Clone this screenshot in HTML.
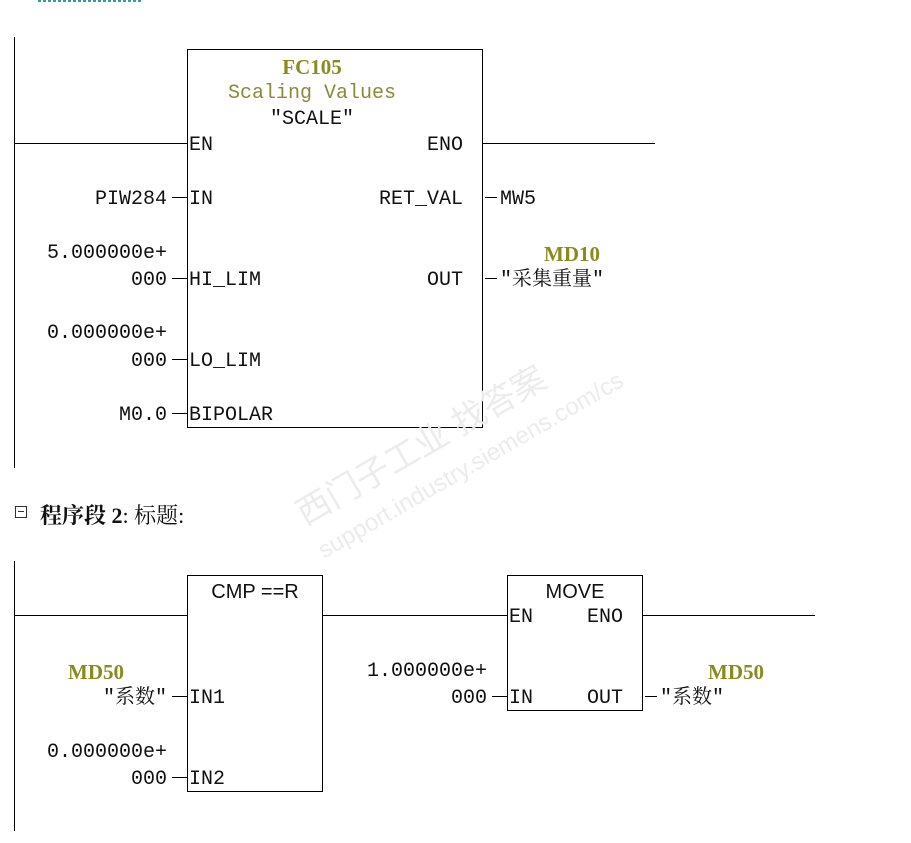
<!DOCTYPE html>
<html><head><meta charset="utf-8"><style>
body{margin:0;width:911px;height:843px;background:#fff;position:relative;overflow:hidden}
.t{position:absolute;font-family:"Liberation Mono","Noto Serif CJK SC",monospace;font-size:20px;line-height:20px;color:#111;white-space:nowrap;margin-top:3px}
.r{text-align:right}
.c{text-align:center}
.o{color:#8a8a1e;font-weight:bold;font-family:"Liberation Serif",serif;font-size:21px}
.s{font-family:"Liberation Sans",sans-serif;font-size:20px}
.h{position:absolute;background:#000;height:1px}
.v{position:absolute;background:#000;width:1px}
.b{position:absolute;border:1px solid #000;box-sizing:border-box}
</style></head><body>
<div style="position:absolute;left:38px;top:0;width:104px;height:2px;background:repeating-linear-gradient(90deg,#3a9a9a 0 3px,#fff 3px 5px)"></div>

<!-- network 1 -->
<div class="v" style="left:14px;top:37px;height:431px"></div>
<div class="b" style="left:187px;top:49px;width:296px;height:379px"></div>
<div class="h" style="left:14px;top:143px;width:173px"></div>
<div class="h" style="left:482px;top:143px;width:173px"></div>
<div class="t c o" style="left:187px;width:250px;top:54px">FC105</div>
<div class="t c" style="left:187px;width:250px;top:81px;color:#8a8a3a">Scaling Values</div>
<div class="t c" style="left:187px;width:250px;top:107px">"SCALE"</div>
<div class="t" style="left:189px;top:133px">EN</div>
<div class="t r" style="right:448px;top:133px">ENO</div>
<div class="t" style="left:189px;top:187px">IN</div>
<div class="t r" style="right:448px;top:187px">RET_VAL</div>
<div class="t" style="left:189px;top:268px">HI_LIM</div>
<div class="t r" style="right:448px;top:268px">OUT</div>
<div class="t" style="left:189px;top:349px">LO_LIM</div>
<div class="t" style="left:189px;top:403px">BIPOLAR</div>
<div class="t r" style="right:744px;top:187px">PIW284</div>
<div class="h" style="left:172px;top:197px;width:15px"></div>
<div class="t r" style="right:744px;top:241px">5.000000e+</div>
<div class="t r" style="right:744px;top:268px">000</div>
<div class="h" style="left:172px;top:278px;width:15px"></div>
<div class="t r" style="right:744px;top:321px">0.000000e+</div>
<div class="t r" style="right:744px;top:349px">000</div>
<div class="h" style="left:172px;top:359px;width:15px"></div>
<div class="t r" style="right:744px;top:403px">M0.0</div>
<div class="h" style="left:172px;top:413px;width:15px"></div>
<div class="h" style="left:485px;top:197px;width:12px"></div>
<div class="t" style="left:500px;top:187px">MW5</div>
<div class="t c o" style="left:532px;width:80px;top:241px">MD10</div>
<div class="h" style="left:485px;top:278px;width:12px"></div>
<div class="t" style="left:500px;top:268px">"采集重量"</div>

<!-- header -->
<div style="position:absolute;left:15px;top:506px;width:10px;height:10px;border:1px solid #333"><div style="position:absolute;left:2px;right:2px;top:4px;height:1px;background:#333"></div></div>
<div class="t" style="left:40px;top:501px;font-family:'Liberation Serif','Noto Serif CJK SC',serif;font-size:22px;line-height:24px"><b>程序段 2</b>: 标题:</div>

<!-- network 2 -->
<div class="v" style="left:14px;top:561px;height:270px"></div>
<div class="b" style="left:187px;top:575px;width:136px;height:217px"></div>
<div class="b" style="left:507px;top:575px;width:136px;height:136px"></div>
<div class="h" style="left:14px;top:615px;width:173px"></div>
<div class="h" style="left:322px;top:615px;width:185px"></div>
<div class="h" style="left:642px;top:615px;width:173px"></div>
<div class="t c s" style="left:187px;width:136px;top:579px">CMP ==R</div>
<div class="t c s" style="left:507px;width:136px;top:579px">MOVE</div>
<div class="t" style="left:189px;top:686px">IN1</div>
<div class="t" style="left:189px;top:767px">IN2</div>
<div class="t o" style="left:68px;top:659px">MD50</div>
<div class="t r" style="right:744px;top:686px">"系数"</div>
<div class="h" style="left:172px;top:696px;width:15px"></div>
<div class="t r" style="right:744px;top:740px">0.000000e+</div>
<div class="t r" style="right:744px;top:767px">000</div>
<div class="h" style="left:172px;top:777px;width:15px"></div>
<div class="t" style="left:509px;top:605px">EN</div>
<div class="t r" style="right:288px;top:605px">ENO</div>
<div class="t" style="left:509px;top:686px">IN</div>
<div class="t r" style="right:288px;top:686px">OUT</div>
<div class="t r" style="right:424px;top:659px">1.000000e+</div>
<div class="t r" style="right:424px;top:686px">000</div>
<div class="h" style="left:492px;top:696px;width:15px"></div>
<div class="h" style="left:645px;top:696px;width:12px"></div>
<div class="t" style="left:660px;top:686px">"系数"</div>
<div class="t o" style="left:708px;top:659px">MD50</div>

<!-- watermark -->
<div style="position:absolute;left:290px;top:500px;transform:rotate(-30deg);transform-origin:left top;color:#ececec;font-family:'Liberation Sans','Noto Sans CJK SC',sans-serif;font-size:34px;line-height:38px;white-space:nowrap">西门子工业 找答案<br><span style="font-size:24px">support.industry.siemens.com/cs</span></div>
</body></html>
